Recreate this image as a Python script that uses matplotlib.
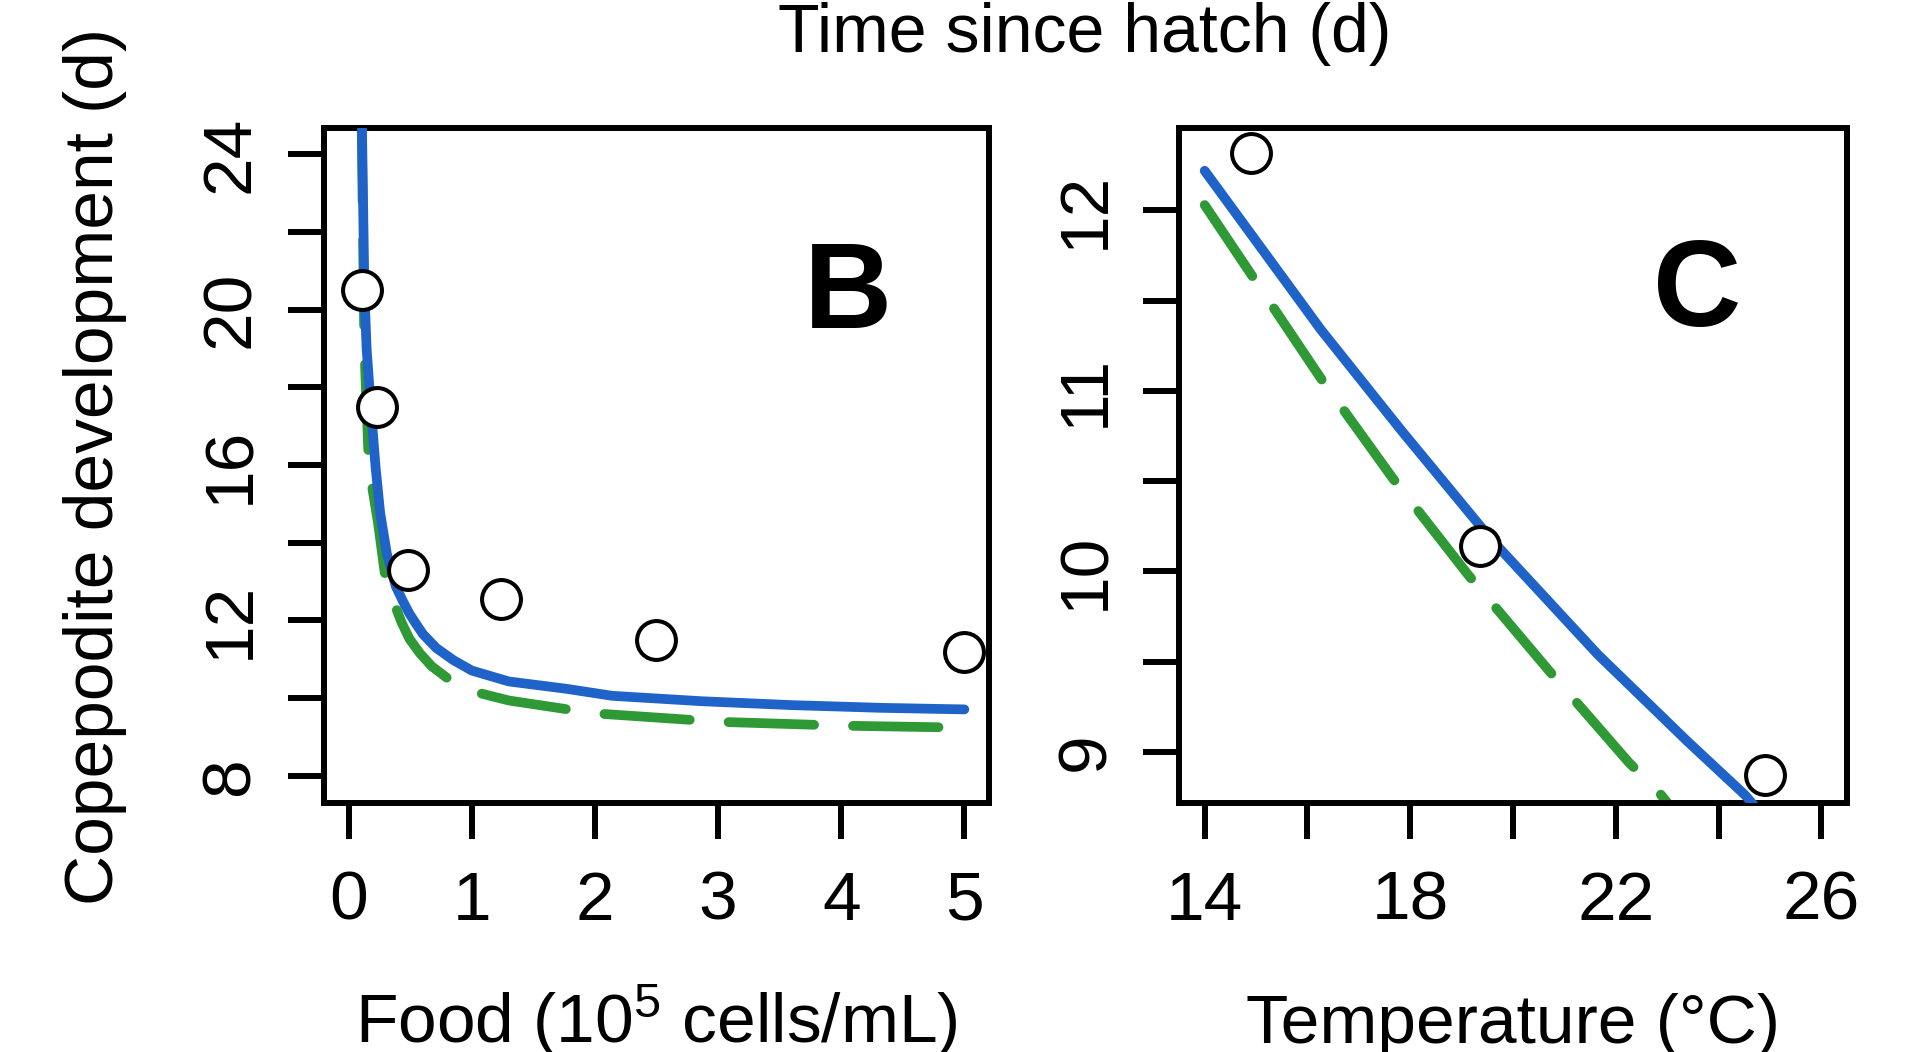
import matplotlib
matplotlib.use('Agg')
import matplotlib.pyplot as plt

plt.rcParams['font.family'] = ['Liberation Sans', 'DejaVu Sans']
plt.rcParams['mathtext.default'] = 'regular'

# ---------------- data ----------------
# Panel B: food
food_obs = [0.11, 0.23, 0.48, 1.24, 2.5, 5.0]
dev_food_obs = [20.5, 17.5, 13.3, 12.55, 11.5, 11.2]

food_blue = [0.107, 0.128, 0.146, 0.18, 0.219, 0.256, 0.311, 0.383, 0.44, 0.493, 0.55, 0.603,
             0.712, 0.85, 1.0, 1.3, 1.77, 2.14, 2.87, 3.6, 4.33, 5.0]
dev_food_blue = [25.0, 20.5, 19.0, 17.5, 15.94, 14.77, 13.71, 12.88, 12.5, 12.18, 11.9, 11.65,
                 11.29, 10.98, 10.71, 10.43, 10.24, 10.06, 9.92, 9.82, 9.75, 9.71]

food_green = [0.105, 0.128, 0.165, 0.238, 0.293, 0.366, 0.43, 0.493, 0.58, 0.675, 0.82, 1.0, 1.3,
              1.99, 3.01, 4.02, 5.0]
dev_food_green = [25.0, 19.0, 15.94, 14.53, 13.23, 12.47, 11.95, 11.53, 11.15, 10.82, 10.47, 10.18, 9.94,
                  9.61, 9.39, 9.29, 9.24]

# Panel C: temperature
temp_obs = [14.9, 19.35, 24.9]
dev_temp_obs = [12.32, 10.14, 8.87]

temp_blue = [14.0, 16.26, 17.83, 19.57, 21.65, 23.39, 24.52, 24.7]
dev_temp_blue = [12.22, 11.34, 10.78, 10.18, 9.54, 9.06, 8.76, 8.70]

temp_green = [14.0, 16.26, 17.65, 19.13, 20.70, 22.26, 22.83, 23.0]
dev_temp_green = [12.03, 11.07, 10.52, 9.98, 9.45, 8.94, 8.78, 8.72]

# ticks
food_ticks = [0, 1, 2, 3, 4, 5]
dev_food_major = [8, 12, 16, 20, 24]
dev_food_minor = [10, 14, 18, 22]
temp_major = [14, 18, 22, 26]
temp_minor = [16, 20, 24]
dev_temp_major = [9, 10, 11, 12]
dev_temp_minor = [9.5, 10.5, 11.5]

BLUE = '#1f63c8'
GREEN = '#2f9a35'

W, H = 1908, 1052
fig = plt.figure(figsize=(W / 100, H / 100), dpi=100)


def px_axes(l, t, r, b):
    return fig.add_axes([l / W, 1 - b / H, (r - l) / W, (b - t) / H])


def style(ax, xmaj, xmin, ymaj, ymin):
    for s in ax.spines.values():
        s.set_linewidth(4.3)
    ax.set_xticks(xmaj)
    ax.set_xticks(xmin, minor=True)
    ax.set_yticks(ymaj)
    ax.set_yticks(ymin, minor=True)
    ax.tick_params(which='both', length=26, width=4.3, direction='out', color='black')
    ax.tick_params(axis='x', labelsize=50, pad=22)
    ax.tick_params(axis='y', labelsize=50, pad=18, labelrotation=90)
    for lbl in ax.get_yticklabels():
        lbl.set_va('center')


LW = 7.0


def draw(ax, xb, yb, xg, yg, xo, yo):
    ax.plot(xg, yg, color=GREEN, linewidth=LW, linestyle=(0, (8.8, 4.0)),
            dash_capstyle='round', solid_capstyle='round', zorder=2)
    ax.plot(xb, yb, color=BLUE, linewidth=LW, solid_capstyle='round',
            solid_joinstyle='round', zorder=3)
    ax.plot(xo, yo, 'o', ms=28, mew=2.9, mfc='white', mec='black',
            zorder=5, clip_on=False)


axB = px_axes(324, 128, 989, 803)
draw(axB, food_blue, dev_food_blue, food_green, dev_food_green, food_obs, dev_food_obs)
axB.set_xlim(-0.2, 5.2)
axB.set_ylim(7.30, 24.68)
style(axB, food_ticks, [], dev_food_major, dev_food_minor)

axC = px_axes(1179, 128, 1847, 803)
draw(axC, temp_blue, dev_temp_blue, temp_green, dev_temp_green, temp_obs, dev_temp_obs)
axC.set_xlim(13.5, 26.5)
axC.set_ylim(8.717, 12.457)
style(axC, temp_major, temp_minor, dev_temp_major, dev_temp_minor)

fig.text(1085 / W, 1 - 52 / H, 'Time since hatch (d)', ha='center', va='baseline', fontsize=49)
fig.text(113 / W, 1 - 466 / H, 'Copepodite development (d)', rotation=90,
         rotation_mode='anchor', ha='center', va='baseline', fontsize=50)
fig.text(656.5 / W, 1 - 1043 / H, 'Food (10$^5$ cells/mL)', ha='center', va='baseline', fontsize=50)
fig.text(1513 / W, 1 - 1043 / H, 'Temperature (°C)', ha='center', va='baseline', fontsize=50)
fig.text(847.5 / W, 1 - 328 / H, 'B', ha='center', va='baseline', fontsize=88, fontweight='bold')
fig.text(1697 / W, 1 - 326 / H, 'C', ha='center', va='baseline', fontsize=88, fontweight='bold')

fig.savefig('out.png', dpi=100)
